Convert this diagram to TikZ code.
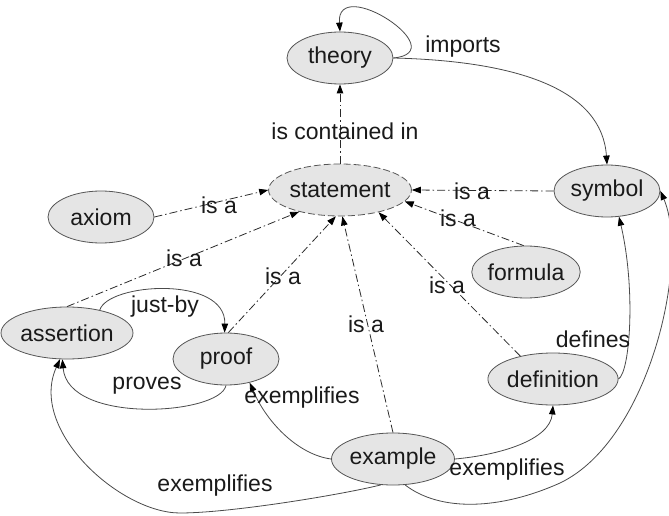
\documentclass[tikz,border=0pt]{standalone}
\usepackage{fontspec}
\setmainfont{Liberation Sans}
\usetikzlibrary{shapes.geometric,arrows.meta}
\definecolor{nodefill}{HTML}{E5E5E5}
\definecolor{nodeline}{HTML}{555555}
\definecolor{solidcol}{HTML}{4A4A4A}
\definecolor{dashcol}{HTML}{2A2A2A}
\definecolor{txt}{HTML}{1A1A1A}
\begin{document}
\begin{tikzpicture}[x=1pt,y=-1pt,
  concept/.style={ellipse, draw=nodeline, fill=nodefill, line width=0.8pt,
    minimum width=106pt, minimum height=52pt, inner sep=0pt,
    font=\fontsize{23}{27}\selectfont, text=txt},
  tip/.style={-{Triangle[length=9pt,width=6.5pt,color=black]}},
  isa/.style={draw=dashcol, line width=0.8pt,
    dash pattern=on 8pt off 3pt on 1.5pt off 3pt, tip},
  rel/.style={draw=solidcol, line width=0.8pt, tip},
  lbl/.style={font=\fontsize{23}{27}\selectfont, text=txt, inner sep=0pt}]
\useasboundingbox (0,0) rectangle (669,516);

% concepts
\node[concept] (theory) at (340,58) {theory};
\node[concept, dashed, dash pattern=on 7pt off 3pt] (statement) at (340,190) {statement};
\node[concept] (axiom) at (101,217) {axiom};
\node[concept] (symbol) at (607,191) {symbol};
\node[concept] (formula) at (526,272) {formula};
\node[concept] (assertion) at (67,333) {assertion};
\node[concept] (proof) at (226,359) {proof};
\node[concept] (definition) at (553,379) {definition};
\node[concept] (example) at (393,459) {example};

% theory relations
\draw[rel] (theory.east) .. controls +(62,-6) and +(-4,-58) .. (theory.north);
\draw[rel] (theory.east) .. controls +(125,3) and +(-5,-75) .. (symbol.north);
\draw[isa] (statement.north) -- (theory.south);

% is-a links to statement
\draw[isa] (axiom.east) -- (statement.west);
\draw[isa] (assertion.north) -- (statement.208);
\draw[isa] (proof.85) -- (statement.261);
\draw[isa] (example.north) -- (statement.275);
\draw[isa] (definition.145) -- (statement.330);
\draw[isa] (formula.95) -- (statement.-10);
\draw[isa] (symbol.west) -- (statement.east);

% other relations
\draw[rel] (assertion.35) .. controls (108,283) and (226,275) .. (proof.93);
\draw[rel] (proof.-90) .. controls (220,415) and (68,425) .. (assertion.-100);
\draw[rel] (definition.east) .. controls (630,372) and (636,290) .. (symbol.-65);
\draw[rel] (example.west) .. controls (300,455) and (268,425) .. (proof.-45);
\draw[rel] (example.east) .. controls (500,455) and (550,440) .. (definition.south);
\draw[rel] (example.-115) .. controls (340,495) and (230,513) .. (180,513)
  .. controls (120,513) and (28,430) .. (assertion.-105);
\draw[rel] (example.-65) .. controls (440,512) and (500,510) .. (560,483)
  .. controls (650,440) and (690,260) .. (symbol.east);

% relation labels
\node[lbl] (l1) at (463,47) {imports};
\node[lbl] (l2) at (345,131) {is contained in};
\node[lbl] (l3) at (219,205) {is a};
\node[lbl] (l4) at (184,258) {is a};
\node[lbl] (l5) at (283,276) {is a};
\node[lbl] (l6) at (366,324) {is a};
\node[lbl] (l7) at (447,285) {is a};
\node[lbl] (l8) at (458,218) {is a};
\node[lbl] (l9) at (472,191) {is a};
\node[lbl] (l10) at (165,307) {just-by};
\node[lbl] (l11) at (147,386) {proves};
\node[lbl] (l12) at (302,398) {exemplifies};
\node[lbl] (l13) at (215,486) {exemplifies};
\node[lbl] (l14) at (507,470) {exemplifies};
\node[lbl] (l15) at (593,339) {defines};
\end{tikzpicture}
\end{document}
